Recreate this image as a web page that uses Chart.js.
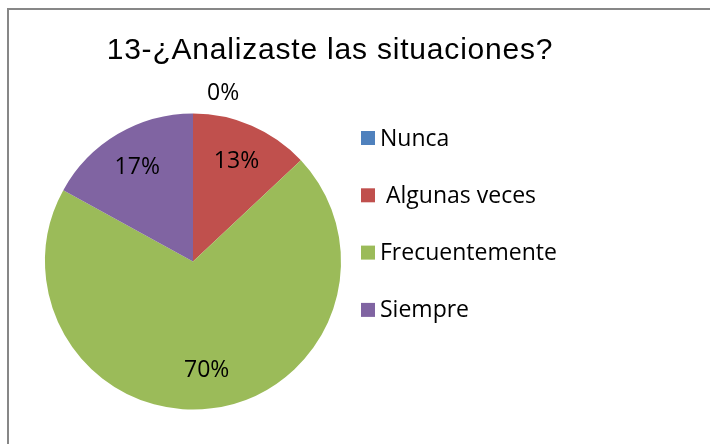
<!DOCTYPE html>
<html>
<head>
<meta charset="utf-8">
<script src="https://cdn.jsdelivr.net/npm/chart.js@4/dist/chart.umd.min.js"></script>
<style>
  html, body { margin: 0; padding: 0; background: #fff; }
  #wrap { position: relative; width: 710px; height: 444px; }
  #wrap .frame {
    position: absolute; left: 7px; top: 8px; right: -4px; bottom: -4px;
    border-left: 2px solid #878787; border-top: 2px solid #878787;
  }
</style>
</head>
<body>
<div id="wrap">
  <div class="frame"></div>
  <canvas id="pieChart" width="710" height="444"></canvas>
</div>
<script>
'use strict';

const chartTitle = '13-¿Analizaste las situaciones?';
const labels = ['Nunca', ' Algunas veces', 'Frecuentemente', 'Siempre'];
const percents = [0, 13, 70, 17];
const colors = ['#4F81BD', '#C0504D', '#9BBB59', '#8064A2'];

const labelFont = '23px "Open Sans", sans-serif';

// title, percent labels and the legend on the right
const decorations = {
  id: 'decorations',
  afterDatasetsDraw(chart) {
    const ctx = chart.ctx;
    const meta = chart.getDatasetMeta(0);

    ctx.save();
    ctx.fillStyle = '#000';
    ctx.font = '30px "Liberation Sans", Arial, sans-serif';
    ctx.textAlign = 'center';
    ctx.textBaseline = 'alphabetic';
    ctx.letterSpacing = '0.8px';
    ctx.fillText(chartTitle, 330, 59);
    ctx.letterSpacing = '0px';

    ctx.font = labelFont;
    ctx.textBaseline = 'middle';
    meta.data.forEach(function(arc, i) {
      const p = arc.getProps(['x', 'y', 'startAngle', 'endAngle', 'outerRadius'], true);
      const mid = (p.startAngle + p.endAngle) / 2;
      const text = percents[i] + '%';
      if (percents[i] === 0) {
        const r = p.outerRadius + 20;
        ctx.textAlign = 'left';
        ctx.fillText(text, p.x + Math.cos(mid) * r + 14, p.y + Math.sin(mid) * r);
      } else {
        const r = p.outerRadius * 0.74;
        ctx.textAlign = 'center';
        ctx.fillText(text, p.x + Math.cos(mid) * r, p.y + Math.sin(mid) * r);
      }
    });

    ctx.textAlign = 'left';
    for (let i = 0; i < labels.length; i++) {
      const y = 138 + i * 57.3;
      ctx.fillStyle = colors[i];
      ctx.fillRect(361, y - 7, 14, 14);
      ctx.fillStyle = '#000';
      ctx.fillText(labels[i], 380, y + 1);
    }
    ctx.restore();
  }
};

const ctx = document.getElementById('pieChart');

let pieChart = new Chart(ctx, {
  type: 'pie',
  data: {
    labels: labels,
    datasets: [{
      data: percents,
      backgroundColor: colors,
      borderWidth: 0
    }]
  },
  options: {
    responsive: false,
    animation: false,
    layout: {
      padding: { left: 45, top: 113, right: 369, bottom: 34 }
    },
    plugins: {
      legend: { display: false },
      title: { display: false },
      tooltip: { enabled: false }
    }
  },
  plugins: [decorations]
});
</script>
</body>
</html>
